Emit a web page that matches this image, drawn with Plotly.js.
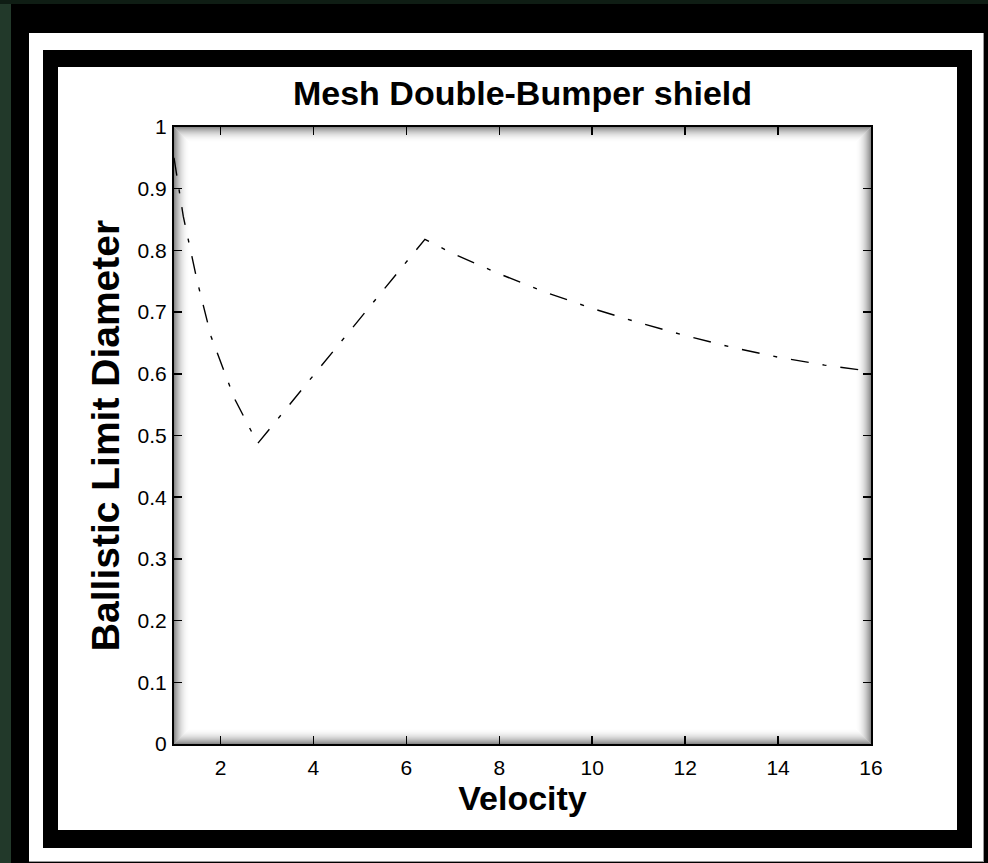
<!DOCTYPE html>
<html>
<head>
<meta charset="utf-8">
<script src="https://cdn.plot.ly/plotly-3.0.1.min.js"></script>
<style>
  html, body { margin: 0; padding: 0; width: 988px; height: 863px; overflow: hidden; }
  body { background: #22392a; position: relative; }
  #topstrip { position: absolute; left: 0; top: 0; width: 988px; height: 4px; background: #0f1d14; }
  #outer { position: absolute; left: 11px; top: 4px; width: 977px; height: 859px; background: #000; }
  #paper { position: absolute; left: 29px; top: 33px; width: 954px; height: 828px; background: #fff;
           border-right: 1px solid #9a9a9a; border-bottom: 1px solid #9a9a9a; }
  #frame { position: absolute; left: 43px; top: 50px; width: 929px; height: 798px; background: #000; }
  #chart { position: absolute; left: 58px; top: 67px; width: 899px; height: 763px; background: #fff; }
</style>
</head>
<body>
<div id="topstrip"></div>
<div id="outer"></div>
<div id="paper"></div>
<div id="frame"></div>
<div id="chart"></div>
<script>
// Data
const velocity = [1, 1.1, 1.2, 1.5, 1.8, 2.3, 2.8, 6.4, 7, 8, 9, 10, 11, 12, 13, 14, 15, 16];
const diameter = [0.95, 0.9, 0.855, 0.75, 0.66, 0.56, 0.487, 0.818, 0.795, 0.762, 0.732, 0.706, 0.683, 0.662, 0.643, 0.627, 0.614, 0.604];
const xTickVals = [2, 4, 6, 8, 10, 12, 14, 16];
const yTickVals = [0, 0.1, 0.2, 0.3, 0.4, 0.5, 0.6, 0.7, 0.8, 0.9, 1];
const yTickText = ['0', '0.1', '0.2', '0.3', '0.4', '0.5', '0.6', '0.7', '0.8', '0.9', '1'];
const chartTitle = 'Mesh Double-Bumper shield';
const xTitle = 'Velocity';
const yTitle = 'Ballistic Limit Diameter';

const W = 899, H = 763;
const margin = {l: 116, r: 86, t: 60, b: 86};
const plotW = W - margin.l - margin.r;
const plotH = H - margin.t - margin.b;

// inner shadow of the plotting box (decoration)
const shapes = [];
const depth = 16;
for (let d = 0; d < depth; d++) {
  const a = 0.45 * Math.pow(1 - d / depth, 2.2);
  const px = (d + 0.5) / plotW, py = (d + 0.5) / plotH;
  shapes.push({
    type: 'rect', xref: 'x domain', yref: 'y domain', layer: 'below',
    x0: px, x1: 1 - px, y0: py, y1: 1 - py,
    line: {color: 'rgba(0,0,0,' + a.toFixed(3) + ')', width: 1},
    fillcolor: 'rgba(0,0,0,0)'
  });
}

const font = 'Arial, "Liberation Sans", Helvetica, sans-serif';

const trace = {
  x: velocity, y: diameter, type: 'scatter', mode: 'lines',
  line: {color: '#000', width: 1.4, dash: '18px,14px,4px,14px'},
  hoverinfo: 'skip', showlegend: false
};

const layout = {
  width: W, height: H,
  margin: margin,
  paper_bgcolor: '#fff',
  plot_bgcolor: '#fff',
  showlegend: false,
  title: {text: '<b>' + chartTitle + '</b>', font: {family: font, size: 34, color: '#000'},
          x: 0.5, xref: 'paper', xanchor: 'center', y: 1 - 26 / H, yanchor: 'middle'},
  xaxis: {
    range: [1, 16], tickvals: xTickVals, ticktext: xTickVals.map(String),
    ticks: 'inside', ticklen: 8, tickwidth: 1.5, tickcolor: '#000',
    showline: true, linecolor: '#000', linewidth: 2, mirror: 'ticks',
    showgrid: false, zeroline: false,
    tickfont: {family: font, size: 21, color: '#000'},
    ticklabelstandoff: 4,
    title: {text: '<b>' + xTitle + '</b>', font: {family: font, size: 34, color: '#000'}, standoff: 6}
  },
  yaxis: {
    range: [0, 1], tickvals: yTickVals, ticktext: yTickText,
    ticks: 'inside', ticklen: 8, tickwidth: 1.5, tickcolor: '#000',
    showline: true, linecolor: '#000', linewidth: 2, mirror: 'ticks',
    showgrid: false, zeroline: false,
    tickfont: {family: font, size: 21, color: '#000'},
    ticklabelstandoff: 1,
    title: {text: '<b>' + yTitle + '</b>', font: {family: font, size: 39, color: '#000'}, standoff: 6}
  },
  shapes: shapes
};

Plotly.newPlot('chart', [trace], layout, {displayModeBar: false, staticPlot: true});
</script>
</body>
</html>
